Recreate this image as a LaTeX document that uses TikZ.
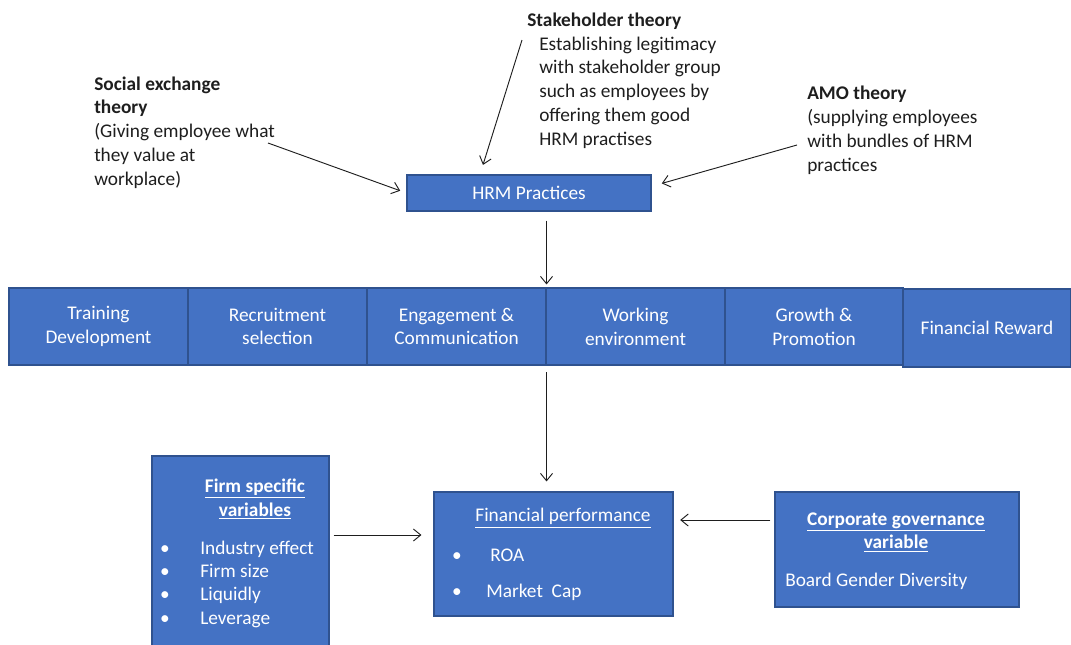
\documentclass[tikz,border=0pt]{standalone}
\usepackage{fontspec}
\setmainfont{Carlito}
\usetikzlibrary{arrows.meta,calc}
\definecolor{boxblue}{HTML}{4472C4}
\definecolor{boxedge}{HTML}{2F528F}
\definecolor{ink}{HTML}{1E1E1E}
\begin{document}
\begin{tikzpicture}[x=0.75pt,y=-0.75pt,
  font=\fontsize{14.5}{17.8}\selectfont,
  blk/.style={draw=boxedge, fill=boxblue, line width=0.8pt, inner sep=0pt,
    text=white, align=center},
  rowbox/.style={blk, minimum width=134.25pt, minimum height=57.75pt},
  arr/.style={-{Straight Barb[length=5.5pt,width=9pt]}, line width=0.7pt, draw=ink},
  lbl/.style={inner sep=0pt, anchor=base west, align=left, text=ink},
  wt/.style={text=white, inner sep=0pt}]
\useasboundingbox (0,0) rectangle (1071,644);

% ---- theory labels (anchored at the baseline of their last line) ----
\node[lbl] (sxt) at (94,185) {\textbf{Social exchange}\\\textbf{theory}\\(Giving employee what\\they value at\\workplace)};
\node[lbl] (stt) at (527,26) {\textbf{Stakeholder theory}};
\node[lbl] (stb) at (539,145) {Establishing legitimacy\\with stakeholder group\\such as employees by\\offering them good\\HRM practises};
\node[lbl] (amt) at (807,171) {\textbf{AMO theory}\\(supplying employees\\with bundles of HRM\\practices};

% ---- HRM practices ----
\node[blk, minimum width=183pt, minimum height=27pt] (hrm) at (529,193) {HRM Practices};

% ---- row of practices ----
\node[rowbox] (tr) at (98.5,326.5) {Training\\Development};
\node[rowbox] (ry) at (277.5,326.5) {Recruitment\\selection};
\node[rowbox] (eg) at (456.5,326.5) {Engagement \&\\Communication};
\node[rowbox] (wk) at (635.5,326.5) {Working\\environment};
\node[rowbox, minimum width=133.5pt] (gr) at (814,326.5) {Growth \&\\Promotion};
\node[blk, minimum width=126pt, minimum height=58.5pt] (fr) at (987,328) {Financial Reward};

% ---- lower boxes ----
\node[blk, minimum width=179.25pt, minimum height=93pt] (fin) at (553.5,554) {};
\node[blk, minimum width=132.75pt, minimum height=145.5pt] (firm) at (240.5,553) {};
\node[blk, minimum width=183pt, minimum height=86.25pt] (corp) at (897,549.5) {};

% financial performance contents
\node[wt] (fint) at (563,518) {\underline{Financial performance}};
\node[wt, anchor=base] (fb1) at (457,561) {\textbullet};
\node[wt, anchor=base west] (roa) at (490,561) {ROA};
\node[wt, anchor=base] (fb2) at (457,597) {\textbullet};
\node[wt, anchor=base west] (mcap) at (486,597) {Market\ \ Cap};

% firm specific contents
\node[wt, align=center] (firmt) at (255,499) {\textbf{\underline{Firm specific}}\\\textbf{\underline{variables}}};
\node[wt, anchor=base] (vb1) at (165,554) {\textbullet};
\node[wt, anchor=base west] (v1) at (200,554) {Industry effect};
\node[wt, anchor=base] (vb2) at (165,577) {\textbullet};
\node[wt, anchor=base west] (v2) at (200,577) {Firm size};
\node[wt, anchor=base] (vb3) at (165,600) {\textbullet};
\node[wt, anchor=base west] (v3) at (200,600) {Liquidly};
\node[wt, anchor=base] (vb4) at (165,624) {\textbullet};
\node[wt, anchor=base west] (v4) at (200,624) {Leverage};

% corporate governance contents
\node[wt, align=center] (corpt) at (896,532) {\textbf{\underline{Corporate governance}}\\\textbf{\underline{variable}}};
\node[wt, anchor=base west] (bgd) at (785,586) {Board Gender Diversity};

% ---- connectors ----
\coordinate (sxe) at (268,143);
\coordinate (ste) at (522,40);
\coordinate (amo) at (797,145);
\coordinate (y535) at (0,535);
\coordinate (y520) at (0,520);

\draw[arr, shorten >=5pt] (sxe) -- (hrm.west);
\draw[arr, shorten >=7.5pt] (ste) -- ($(hrm.north west)!0.3!(hrm.north east)$);
\draw[arr, shorten >=8pt] (amo) -- ([yshift=5pt]hrm.east);
\draw[arr, shorten <=6.75pt, shorten >=2.25pt] (hrm.south -| eg.east) -- (eg.north east);
\draw[arr, shorten <=5pt, shorten >=7.5pt] (eg.south east) -- (fin.north -| eg.east);
\draw[arr, shorten <=3pt, shorten >=9pt] (firm.east |- y535) -- (fin.west |- y535);
\draw[arr, shorten <=3pt, shorten >=5pt] (corp.west |- y520) -- (fin.east |- y520);
\end{tikzpicture}
\end{document}
